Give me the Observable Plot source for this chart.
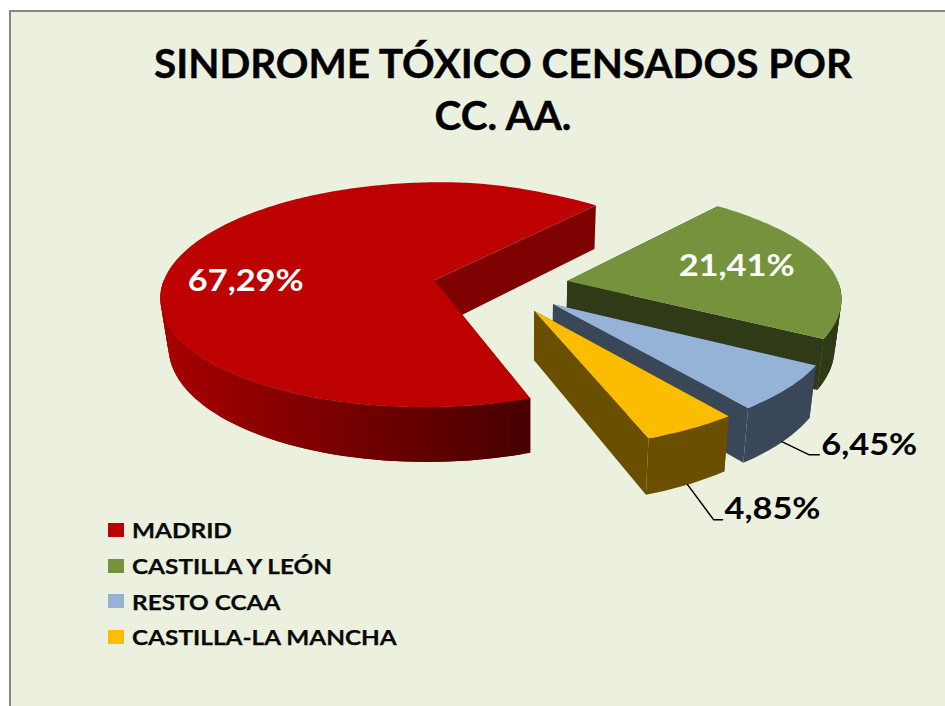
<!DOCTYPE html>
<html><head><meta charset="utf-8">
<script src="https://cdn.jsdelivr.net/npm/d3@7"></script>
<script src="https://cdn.jsdelivr.net/npm/@observablehq/plot@0.6"></script>
<style>
html,body{margin:0;padding:0;background:#fff;overflow:hidden}
#frame{position:relative;width:945px;height:706px;overflow:hidden;font-family:Lato,sans-serif}
#bg{position:absolute;left:9px;top:10px;right:-10px;bottom:-10px;background:#ebf1de;border:2.5px solid #868686}
#title{position:absolute;left:60px;width:886px;top:37px;text-align:center;font-weight:700;font-size:40.5px;line-height:52px;color:#000;-webkit-text-stroke:.4px #000}
#legend{position:absolute;left:108px;top:512px;font-family:Lato,sans-serif;font-weight:700;font-size:21px;color:#0a0a0a;-webkit-text-stroke:.25px #0a0a0a}
#legend div{height:35.7px;display:flex;align-items:center;white-space:nowrap}
#legend i{display:inline-block;width:16px;height:14px;margin-right:8px}
#legend span{display:inline-block;transform:scaleX(1.16);transform-origin:left center}
#chart{position:absolute;left:0;top:0}
#chart text{-webkit-text-stroke:.3px currentColor}
svg{background:transparent!important;display:block}
</style></head><body>
<div id="frame"><div id="bg"></div>
<div id="title">SINDROME TÓXICO CENSADOS POR<br>CC. AA.</div>
<div id="chart"></div><div id="legend"></div></div>
<script>
const categories=["MADRID","CASTILLA Y LEÓN","RESTO CCAA","CASTILLA-LA MANCHA"];
const values=[67.29,21.41,6.45,4.85];
const topColors=["#bd0000","#76923c","#95b3d7","#fcbc00"];
const wallNear=["#4a0000","#2f3a17","#3a4759","#6a4f00"];
const wallFar=["#a80000","#36441a","#3a4759","#6a4f00"];
const cutColors=["#7f0000","#2f3a17","#3a4759","#6a4f00"];
const firstAngle=160, explode=0.25;
// projection of the pie's ground plane
const cx=500, cy=285, R=272, S=112, k=0.13, H=48, vx=530;
function proj(gx,gy,down){
  const w=1-k*gy;
  // far right side of the plane pulls in slightly, as in the original's perspective
  const pull=gy<0?16*gy*gy*Math.min(1,Math.max(0,gx+0.24)/0.5):0;
  const X=cx+R*gx/w-pull, Y=cy+S*gy/w;
  return down? {x:vx+(X-vx)*0.978,y:Y+H/w}:{x:X,y:Y};
}
const rad=a=>a*Math.PI/180;
const dir=a=>[Math.sin(rad(a)),-Math.cos(rad(a))];
const total=d3.sum(values);
let acc=firstAngle;
const slices=categories.map((name,i)=>{
  const a0=acc, a1=acc+values[i]/total*360; acc=a1;
  const mid=(a0+a1)/2, [ex,ey]=dir(mid);
  return {name,i,a0,a1,mid,ox:ex*explode,oy:ey*explode};
});
const rim=(s,a,down)=>{const [u,v]=dir(a);return proj(s.ox+u,s.oy+v,down);};
const apex=(s,down)=>proj(s.ox,s.oy,down);
const polys=[];let id=0;
const add=(pts,c)=>{const z=id++;pts.forEach(p=>polys.push({x:p.x,y:p.y,z,c}));};
for(const s of slices){
  // cut faces
  add([apex(s),rim(s,s.a0),rim(s,s.a0,true),apex(s,true)],cutColors[s.i]);
  add([apex(s),rim(s,s.a1),rim(s,s.a1,true),apex(s,true)],cutColors[s.i]);
  // outer wall: only the part of the rim that faces the viewer
  const shade=d3.interpolateRgb(wallFar[s.i],wallNear[s.i]);
  const as=d3.range(s.a0,s.a1,2).concat([s.a1]).filter(a=>Math.cos(rad(a))<0.02);
  const run=(a,b)=>{const f=as.filter(x=>x>=a&&x<=b);return [...f.map(x=>rim(s,x)),...f.slice().reverse().map(x=>rim(s,x,true))];};
  const banded=wallFar[s.i]!==wallNear[s.i];
  if(banded){
    for(let j=as.length-2;j>=0;j--){
      // each band reaches under its neighbour, so no seam shows
      const p=rim(s,as[j]);
      add(run(as[j],as[Math.min(j+2,as.length-1)]),shade(Math.max(0,Math.min(1,(p.x-165)/365))));
    }
  } else add(run(as[0],as[as.length-1]),wallNear[s.i]);
  // top face
  const f=d3.range(s.a0,s.a1,1).concat([s.a1]).map(a=>rim(s,a));
  add([apex(s),...f],topColors[s.i]);
}
const labelText=values.map(v=>v.toFixed(2).replace(".",",")+"%");
// in-slice labels sit on the top face, outside labels hang off a leader from the rim
const insideAt=(s,r,dx,dy)=>{const [u,v]=dir(s.mid);const p=proj(s.ox+u*r,s.oy+v*r);return{x:p.x+dx,y:p.y+dy,t:labelText[s.i]};};
const inside=[insideAt(slices[0],0.72,-2,16),insideAt(slices[1],0.62,7,-4)];
const leaders=[];
const outside=[[2,27,13,10,-9],[3,26,35,9,-10]].map(([i,dx,dy,run,up],n)=>{
  const s=slices[i], p=rim(s,s.mid,true);
  const e={x:p.x+dx,y:p.y+dy}, f={x:e.x+run,y:e.y};
  [p,e,f].forEach(q=>leaders.push({...q,z:n}));
  return {x:f.x+2,y:f.y+up,t:labelText[i]};
});
const chart=Plot.plot({width:945,height:706,margin:0,
  x:{domain:[0,945],range:[0,945],axis:null},
  y:{domain:[0,706],range:[0,706],axis:null},
  color:{type:"identity"},
  marks:[
    Plot.line(polys,{x:"x",y:"y",z:"z",fill:"c",curve:"linear-closed"}),
    Plot.line(leaders,{x:"x",y:"y",z:"z",stroke:"#000",strokeWidth:1.5}),
    Plot.text(inside,{x:"x",y:"y",text:"t",fill:"#fff",fontSize:30,fontWeight:700,fontFamily:"Lato",textAnchor:"middle"}),
    Plot.text(outside,{x:"x",y:"y",text:"t",fill:"#000",fontSize:30,fontWeight:700,fontFamily:"Lato",textAnchor:"start"})
  ]});
// the original's data labels are stretched horizontally
d3.select(chart).selectAll("text").attr("transform",function(){return (this.getAttribute("transform")||"")+" scale(1.145,1)";});
document.getElementById("chart").append(chart);
const lg=document.getElementById("legend");
categories.forEach((c,i)=>{const d=document.createElement("div");
  const sw=document.createElement("i");sw.style.background=topColors[i];
  const t=document.createElement("span");t.textContent=c;
  d.append(sw,t);lg.append(d);});
</script></body></html>
